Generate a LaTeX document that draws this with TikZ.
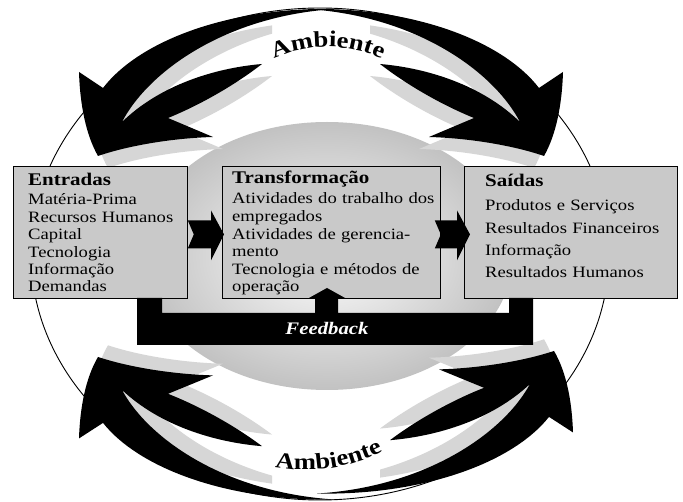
\documentclass[tikz,border=0pt]{standalone}
\usepackage{fontspec}
\setmainfont{Liberation Serif}[FakeStretch=1.18]
\usetikzlibrary{calc,decorations.text}
\definecolor{boxgray}{gray}{0.79}
\definecolor{shadowgray}{gray}{0.84}
\definecolor{sphC}{gray}{0.92}
\definecolor{sphE}{gray}{0.76}
\pgfdeclareradialshading{spherefill}{\pgfpoint{0bp}{0bp}}{color(0bp)=(sphC); color(8bp)=(sphC); color(25bp)=(sphE); color(50bp)=(sphE)}
\newcommand\bodyfnt{\fontsize{15.8}{17.4}\selectfont}
\newcommand\titlefnt{\bfseries\fontsize{17.8}{17.4}\selectfont}
\newcommand\ambfnt{\bfseries\fontsize{22.6}{22.6}\selectfont}
\newcommand\swoosh{(79,-72) .. controls (80,-105) and (86,-135) .. (98,-156)
 .. controls (130,-145) and (175,-138) .. (213,-137)
 -- (168,-118)
 .. controls (200,-105) and (235,-85) .. (262,-64)
 .. controls (215,-68) and (160,-85) .. (122,-122)
 .. controls (148,-72) and (225,-16) .. (335,-9)
 .. controls (230,-7) and (140,-40) .. (103,-88)
 -- cycle}
\tikzset{
  panel/.style={draw=black, line width=0.8pt, fill=boxgray, inner sep=0pt, anchor=north west, minimum height=132pt},
  paneltext/.style={anchor=base west, align=left, inner sep=0pt, text width=#1},
  grpTL/.style={},
  grpTR/.style={xshift=642pt, xscale=-1},
  grpBL/.style={yshift=-258pt, yscale=-0.97, yshift=258pt},
  grpBR/.style={xshift=652pt, xscale=-1, yshift=-252pt, yscale=-0.97, yshift=258pt},
  shadowshift/.style={shift={(10,-12)}},
  blockarrow/.style={fill=black}
}
\begin{document}
\begin{tikzpicture}[x=1pt,y=1pt]
\useasboundingbox (0,0) rectangle (683,-502);
\fill[white] (0,0) rectangle (683,-502);
% outer environment ellipse
\draw[line width=0.9pt] (320,-254) ellipse [x radius=289, y radius=246];
% central sphere
\path[shading=spherefill] (327,-256) ellipse [x radius=186, y radius=134];
% shadows of the environment arrows
\foreach \g in {grpTL,grpTR,grpBL,grpBR}{
  \begin{scope}[\g]
    \begin{scope}[shadowshift]
      \clip (-20,20) rectangle (262,-200);
      \fill[shadowgray] \swoosh;
    \end{scope}
  \end{scope}
}
% environment arrows
\foreach \g in {grpTL,grpTR,grpBL,grpBR}{
  \begin{scope}[\g]
    \fill[black] \swoosh;
  \end{scope}
}
% Ambiente labels
\path[decorate, decoration={text along path, text={|\ambfnt|Ambiente}, text align=center}]
  (328,-177) ++(130:130) arc[start angle=130, end angle=50, radius=130];
\path[decorate, decoration={text along path, text={|\ambfnt|Ambiente}, text align=center}]
  (305,-300) ++(254.5:170) arc[start angle=254.5, end angle=302.5, radius=170];
% boxes
\node[panel, minimum width=174pt] (ent) at (13,-166) {};
\node[panel, minimum width=218pt] (tra) at (222,-166) {};
\node[panel, minimum width=213pt] (sai) at (464,-166) {};
% block arrows between boxes
\coordinate (a1s) at ($(ent.east)+(0,-2)$);
\coordinate (a1e) at ($(tra.west)+(2,-2)$);
\coordinate (a2s) at ($(tra.east)+(-6,-2)$);
\coordinate (a2e) at ($(sai.west)+(6,-2)$);
\foreach \s/\e in {a1s/a1e, a2s/a2e}{
  \fill[blockarrow] let \p1=(\s), \p2=(\e) in
    (\x1,\y1+14) -- (\x2-13,\y1+14) -- (\x2-13,\y1+24) -- (\x2,\y1) -- (\x2-13,\y1-26)
    -- (\x2-13,\y1-14) -- (\x1,\y1-14) -- (\x1+6,\y1) -- cycle;
}
% feedback loop
\fill[black] (137,-298) -- (137,-345) -- (533,-345) -- (533,-298) -- (509,-298) -- (509,-313)
  -- (338,-313) -- (338,-298) -- (345,-298) -- (327,-288) -- (309,-298) -- (315,-298)
  -- (315,-313) -- (162,-313) -- (162,-298) -- cycle;
\node[anchor=base, text=white, font=\bfseries\itshape\fontsize{17.6}{17.6}\selectfont, inner sep=0pt] (fb) at (327,-335) {Feedback};
% texts
\node[paneltext=170pt, font=\bodyfnt] (entT) at (28,-186)
  {{\titlefnt Entradas}\\[1.6pt] Matéria-Prima\\ Recursos Humanos\\ Capital\\ Tecnologia\\ Informação\\ Demandas};
\node[paneltext=215pt, font=\fontsize{15.8}{17.6}\selectfont] (traT) at (232,-184)
  {{\titlefnt Transformação}\\[2.4pt] Atividades do trabalho dos\\ empregados\\ Atividades de gerencia-\\ mento\\ Tecnologia e métodos de\\ operação};
\node[paneltext=200pt, font=\fontsize{15.8}{22.3}\selectfont] (saiT) at (485,-187)
  {{\titlefnt Saídas}\\[1.7pt] Produtos e Serviços\\ Resultados Financeiros\\ Informação\\ Resultados Humanos};
\end{tikzpicture}
\end{document}
